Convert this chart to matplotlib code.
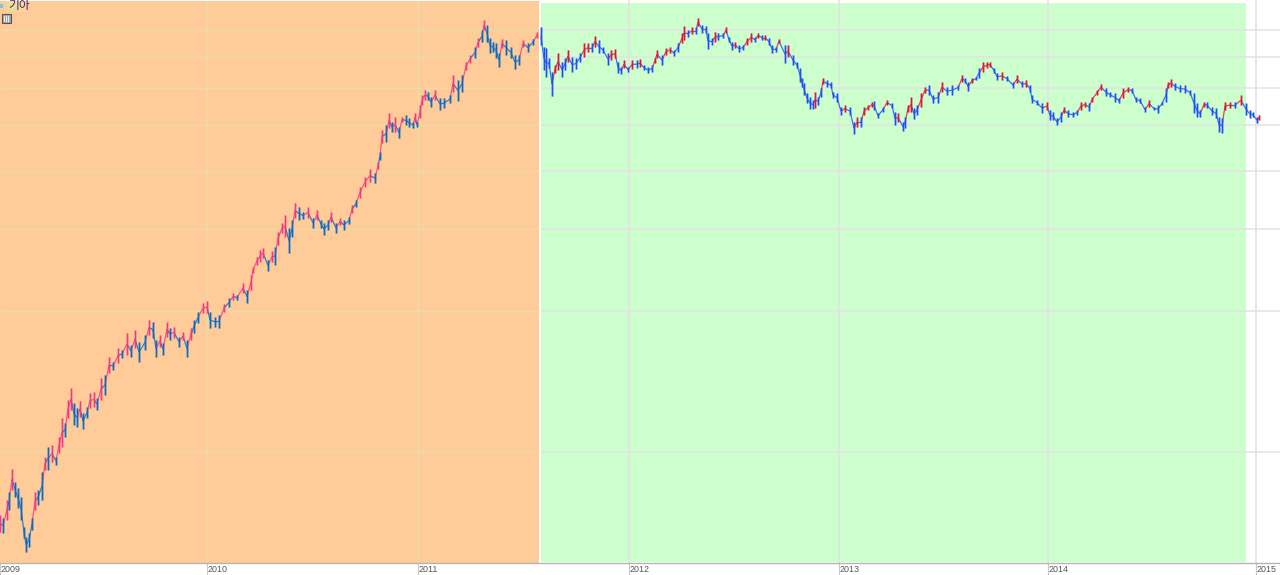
import numpy as np
import matplotlib
matplotlib.use("Agg")
import matplotlib.pyplot as plt
from matplotlib.collections import LineCollection
from matplotlib.patches import Rectangle
from matplotlib.transforms import ScaledTranslation

# Horizontal positions are the chart's own slot numbers along its trading-time axis.
year_labels = ["2009", "2010", "2011", "2012", "2013", "2014", "2015"]
year_slots = [0, 207, 418, 629, 839, 1048, 1256]
grid_prices = [10000, 20000, 30000, 40000, 50000, 60000, 70000, 80000]
split_slot = 540
green_end_slot = 1246

bar_slots = [
 0,3,7,9,12,15,18,21,24,26,29,32,35,38,42,45,48,52,56,59,62,65,68,71,74,77,80,83,87,90,94,97,
 101,105,109,113,118,122,127,131,135,139,145,149,153,156,160,163,167,170,174,179,183,187,191,194,198,
 203,207,210,215,219,224,229,233,237,243,247,251,253,257,260,263,268,272,275,278,282,285,289,292,295,299,
 303,308,313,317,321,324,328,331,336,340,344,349,352,356,360,365,370,375,378,380,382,386,389,392,395,399,
 402,406,409,413,415,417,420,422,425,428,431,435,440,444,450,453,458,462,466,470,475,478,482,484,487,490,
 493,496,499,502,506,511,515,519,523,528,533,537,
 541,544,546,549,552,555,558,562,565,568,572,576,580,584,588,592,595,599,603,608,611,615,618,621,624,628,
 632,637,640,644,648,652,655,657,662,666,670,674,678,682,684,688,692,696,698,702,706,708,712,715,718,723,
 726,729,732,735,739,743,747,751,755,758,762,765,769,772,776,779,785,788,793,797,800,802,804,807,810,813,
 815,818,821,823,827,831,833,837,841,845,850,854,857,861,864,868,872,874,878,883,887,892,895,898,903,905,
 908,911,914,917,921,925,929,933,938,942,947,952,958,962,965,968,972,976,979,983,987,990,994,997,1002,1007,
 1013,1017,1022,1026,1030,1032,1037,1042,1047,1050,1053,1057,1061,1064,1068,1073,1077,1081,1085,1089,1092,
 1097,1101,1106,1110,1115,1119,1123,1128,1132,1136,1140,1145,1149,1154,1158,1162,1166,1168,1171,1175,1180,
 1185,1190,1194,1197,1200,1204,1207,1212,1216,1219,1222,1225,1230,1235,1241,1246,1250,1253,1257,1259]

bar_highs = [
 7330,7220,7900,8210,9200,8630,8380,8010,6910,6580,6710,7220,8210,8300,9060,9760,10250,10350,9760,10770,11820,11530,12920,13700,12730,12420,12860,12120,12480,13370,13440,13050,
 14400,14610,15970,15580,16680,16530,17980,16940,18240,17190,17810,19160,18970,17360,17810,17110,18970,18430,18520,17640,18060,17360,18430,19160,19930,
 20830,21040,19930,19450,19640,20730,21350,21880,21660,22990,22210,23890,24890,26180,27050,27320,25740,26910,27450,29550,30900,32130,30160,31350,34090,33420,
 32610,33420,31690,32940,31350,30900,31350,32610,30900,31690,31350,31850,33750,34610,36880,38750,40300,39510,41720,43830,48840,49960,53110,50800,51990,49570,
 51990,52550,51740,50800,53110,50800,55250,57980,59480,58890,57410,59480,57170,57170,57980,64030,62480,64030,68270,70670,73570,76850,79930,84000,81890,76850,
 75340,74970,71370,76460,76080,73570,70670,70670,76080,74970,76460,79140,
 81080,73570,73200,69650,64990,67270,71370,68270,69650,72420,70000,69650,71370,74970,74970,74970,77610,76080,73570,71370,72420,72780,68270,66600,68950,66600,
 68950,68950,69290,67250,66600,67250,69650,72420,70670,73200,73570,72420,74970,78750,81480,79930,81080,81080,84800,81890,81480,78750,76850,79140,78750,78750,
 81080,77240,75340,75340,74230,74230,76850,78750,77240,78750,77990,77990,76850,74230,73570,76460,74230,74230,70670,68270,66270,63110,61560,58600,57410,56610,
 58890,57410,60050,63110,62480,61870,58890,58600,54700,55250,54700,50800,51990,51990,54700,55250,56060,56330,53110,54700,56610,55790,53370,53110,50800,51990,
 55250,57410,54430,55250,58600,60350,60950,57980,58890,61870,60350,60950,60950,64030,63110,61870,63110,63400,66270,68270,68270,68270,66270,64670,64990,63710,
 61870,64030,62170,62480,60950,57980,56610,55790,56060,53900,53370,51740,53370,54700,53900,53370,53900,56060,56060,55790,57410,
 59480,61260,60050,58890,58600,57170,60050,60350,60050,57410,57170,54700,56610,54700,55250,56060,60050,61870,62790,61560,60950,
 60950,59480,58600,55790,53900,56060,56060,54700,54430,51990,51740,56060,56060,56060,57980,55790,53900,53370,51990,52550]

bar_lows = [
 6740,6710,7150,7510,8300,8010,7590,7150,6550,6110,6260,6810,7510,7700,7900,9150,9150,9520,9380,9950,10250,10770,11820,12300,11420,11310,11880,11200,11820,12420,12480,12300,
 12920,13240,14760,14980,15500,15890,16120,15970,16680,15580,16530,17810,17550,15970,16770,16120,17640,17360,17550,16770,17360,15970,17360,17980,18880,
 19830,19830,18430,18520,18430,19930,20430,21140,21140,21880,20830,22210,24150,25120,25490,26040,24390,25490,25120,27740,29400,28840,26650,28840,31690,31350,
 31530,31690,30160,31350,30160,29110,29850,31050,29400,30600,29850,30750,32450,33420,34960,36880,37800,37610,40300,42120,45810,46040,49330,48360,48360,46960,
 50800,49960,49570,49330,50800,49570,51740,55250,56610,56610,54700,56610,53900,54430,55790,58890,56330,58890,65640,67940,69650,73570,75340,79930,75340,71370,
 71720,69650,66600,73200,70670,69650,65950,67250,73570,71720,74230,76850,
 74230,65640,63400,66270,57700,64670,65640,63400,65640,68270,64990,65950,68270,70000,71720,71720,73570,71370,71370,67250,68950,69650,64670,64350,66270,64990,
 65950,66270,66600,65640,64670,64990,67940,69650,67250,70670,71370,70320,71720,74970,76080,77240,78370,78370,81480,78750,78750,72780,74230,75340,76080,76850,
 78750,75340,72420,73200,71720,72420,74230,75340,75340,76850,76080,76080,74230,71370,71720,74970,67940,70000,67250,66270,61870,60350,57980,55790,54160,54160,
 54430,55250,57410,61260,60350,60050,57170,56060,52550,53370,52550,47880,49570,49570,52550,53900,54700,53900,51740,53370,55250,54430,49960,50800,48600,49330,
 53370,53370,51480,52550,54700,58600,57980,55790,55790,58890,57980,57980,59480,61870,61560,59190,61560,62480,63110,64990,66270,66600,64670,62480,62480,62170,
 60050,61560,60350,60350,58890,55790,55250,53110,53900,51230,51230,49960,50800,53110,51990,51990,52550,53900,54700,53640,56060,
 57980,59480,57700,57410,56060,55790,57170,58890,58600,56060,55790,53370,54700,53900,53110,55250,56060,60050,60350,59480,58890,
 58600,57980,53110,51990,51990,54700,54430,52550,51740,48360,48120,53900,54430,54430,55250,52550,51740,51990,50550,51230]

x = np.array(bar_slots, dtype=float)
hi = np.array(bar_highs, dtype=float)
lo = np.array(bar_lows, dtype=float)
mid = np.sqrt(hi * lo)
# A bar counts as up when it sits above both the previous bar and the midway of its neighbours.
neighbours = np.sqrt(np.r_[mid[0], mid[:-1]] * np.r_[mid[1:], mid[-1]])
rising = (mid >= np.r_[mid[0], mid[:-1]]) & (mid >= neighbours)
left = x < split_slot

fig = plt.figure(figsize=(12.8, 5.75), dpi=100, facecolor="white")
ax = fig.add_axes([0, 12 / 575, 1, 563 / 575])
ax.set_yscale("log")
ax.set_xlim(0, 1280)
ax.set_ylim(5788, 92700)
ax.minorticks_off()
ax.set_yticks([])
ax.tick_params(axis="y", which="both", left=False, labelleft=False)
for s in ["top", "left", "right"]:
    ax.spines[s].set_visible(False)
ax.spines["bottom"].set_color("#b4b4b4")
ax.spines["bottom"].set_linewidth(1.0)

t = ax.get_xaxis_transform()
ax.add_patch(Rectangle((0, 0), 539, 562 / 563, transform=t, fc="#FFCC99", ec="none", zorder=0))
ax.add_patch(Rectangle((541, 0.002), green_end_slot - 541, 559 / 563, transform=t, fc="#CCFFCC", ec="none", zorder=0))

ax.hlines(grid_prices, 0, 539, colors="#E6DDA8", lw=0.9, zorder=1)
ax.hlines(grid_prices, 541, 1280, colors="#E4E2E4", lw=1.1, zorder=1)
for ys in year_slots[1:]:
    c = "#E6DDA8" if ys < split_slot else "#E2E2E2"
    ax.axvline(ys, ymax=0.998, color=c, lw=0.9 if ys < split_slot else 1.2, zorder=1)

def colours(mask, up, down):
    return [up if r else down for r in rising[mask]]

for mask, wash_up, wash_dn, up, dn in [
    (left, "#F79A9A", "#93A8AC", "#F03A7C", "#1068C0"),
    (~left, "#C8A890", "#8FB8F2", "#E0143F", "#1E50F0"),
]:
    ax.vlines(x[mask], lo[mask], hi[mask], colors=colours(mask, wash_up, wash_dn), lw=2.0, alpha=0.75, zorder=2)
    pts = np.column_stack([x[mask], mid[mask]])
    segs = np.stack([pts[:-1], pts[1:]], axis=1)
    ax.add_collection(LineCollection(segs, colors=colours(mask, up, dn)[1:], linewidths=0.9, alpha=0.8, zorder=2.5))
    ax.vlines(x[mask], lo[mask], hi[mask], colors=colours(mask, up, dn), lw=0.95, zorder=3)

ax.set_xticks(year_slots)
ax.set_xticklabels(year_labels, ha="left", fontsize=6.4, color="#555555", family="Liberation Sans")
ax.tick_params(axis="x", length=8.5, width=0.8, color="#c8c8c8", pad=-7.2)
off = ScaledTranslation(0.5 / 100, 0, fig.dpi_scale_trans)
for lab in ax.get_xticklabels():
    lab.set_transform(lab.get_transform() + off)

fig.patches.append(Rectangle((7 / 1280, 1 - 11 / 575), 18 / 1280, 10 / 575, transform=fig.transFigure, fc="#E8E098", ec="none", zorder=5))
fig.patches.append(Rectangle((0, 1 - 8 / 575), 3 / 1280, 4 / 575, transform=fig.transFigure, fc="#70C8E8", ec="none", zorder=6))
fig.patches.append(Rectangle((1.5 / 1280, 1 - 23 / 575), 9.5 / 1280, 9.5 / 575, transform=fig.transFigure, fc="#A8A8A8", ec="#555555", lw=0.8, zorder=6))
fig.text(8 / 1280, 1 - 6 / 575, "기아", fontsize=8.5, color="#5A1A70", va="center", ha="left",
         family=["Noto Sans CJK KR", "DejaVu Sans"], zorder=7)
for dx in (4, 6, 8):
    fig.add_artist(plt.Line2D([dx / 1280, dx / 1280], [1 - 21 / 575, 1 - 16 / 575], color="#F0F0F0", lw=0.7, zorder=7))

fig.savefig("out.png", dpi=100)
